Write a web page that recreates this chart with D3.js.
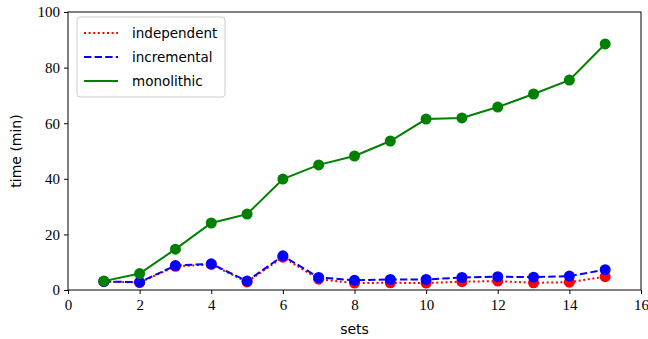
<!DOCTYPE html>
<html><head><meta charset="utf-8">
<script src="https://cdn.jsdelivr.net/npm/d3@7"></script>
<style>body{margin:0;background:#fff}svg{display:block}</style>
</head><body>
<script>
const sets = [1,2,3,4,5,6,7,8,9,10,11,12,13,14,15];
const independent = [3.0,2.7,8.5,9.2,2.9,11.8,3.9,2.5,2.6,2.5,3.0,3.2,2.6,2.8,4.8];
const incremental = [3.1,2.8,8.8,9.4,3.2,12.3,4.5,3.5,3.8,3.8,4.5,4.8,4.6,5.0,7.3];
const monolithic = [3.2,5.9,14.7,24.1,27.3,39.9,45.0,48.2,53.6,61.5,61.9,65.8,70.5,75.5,88.5];
const xTicks = [0,2,4,6,8,10,12,14,16];
const yTicks = [0,20,40,60,80,100];
const series = [
  {name:"independent", values:independent, color:"#ff0000", dash:"2,2.6"},
  {name:"incremental", values:incremental, color:"#0000ff", dash:"7.4,3.2"},
  {name:"monolithic", values:monolithic, color:"#008000", dash:null}
];
const W=648,H=339, L=68, R=641, T=12, B=290;
const svg=d3.select("body").append("svg").attr("width",W).attr("height",H);
const x=d3.scaleLinear().domain([0,16]).range([L,R]);
const y=d3.scaleLinear().domain([0,100]).range([B,T]);
const serif="'Liberation Serif','DejaVu Serif',serif";
const sans="'DejaVu Sans','Liberation Sans',sans-serif";

const xa=svg.append("g").attr("transform",`translate(0,${B})`).call(d3.axisBottom(x).tickValues(xTicks).tickSize(4).tickPadding(5).tickSizeOuter(0));
const ya=svg.append("g").attr("transform",`translate(${L},0)`).call(d3.axisLeft(y).tickValues(yTicks).tickSize(4).tickPadding(4).tickSizeOuter(0));
[xa,ya].forEach(a=>{a.select(".domain").remove();a.selectAll("line").attr("stroke","#000").attr("stroke-width",1);
  a.selectAll("text").attr("font-family",serif).attr("font-size",15).attr("fill","#000");});
svg.append("rect").attr("x",L).attr("y",T).attr("width",R-L).attr("height",B-T).attr("fill","none").attr("stroke","#000").attr("stroke-width",1);

const line=d3.line().x((d,i)=>x(sets[i])).y(d=>y(d));
series.forEach(s=>{
  const g=svg.append("g");
  g.append("path").datum(s.values).attr("d",line).attr("fill","none").attr("stroke",s.color).attr("stroke-width",2).attr("stroke-dasharray",s.dash);
  g.selectAll("circle").data(s.values).join("circle").attr("cx",(d,i)=>x(sets[i])).attr("cy",d=>y(d)).attr("r",5.5).attr("fill",s.color);
});

svg.append("text").attr("x",(L+R)/2).attr("y",334).attr("text-anchor","middle").attr("font-family",sans).attr("font-size",14).text("sets");
svg.append("text").attr("transform",`translate(21,${(T+B)/2}) rotate(-90)`).attr("text-anchor","middle").attr("font-family",sans).attr("font-size",14).text("time (min)");

const lg=svg.append("g");
lg.append("rect").attr("x",77).attr("y",17).attr("width",148).attr("height",80).attr("rx",3).attr("fill","#fff").attr("fill-opacity",0.8).attr("stroke","#ccc").attr("stroke-width",1);
series.forEach((s,i)=>{
  const yy=33+i*24;
  lg.append("line").attr("x1",84).attr("x2",118).attr("y1",yy).attr("y2",yy).attr("stroke",s.color).attr("stroke-width",2).attr("stroke-dasharray",s.dash);
  lg.append("text").attr("x",132).attr("y",yy+5).attr("font-family",sans).attr("font-size",13.5).text(s.name);
});
</script>
</body></html>
